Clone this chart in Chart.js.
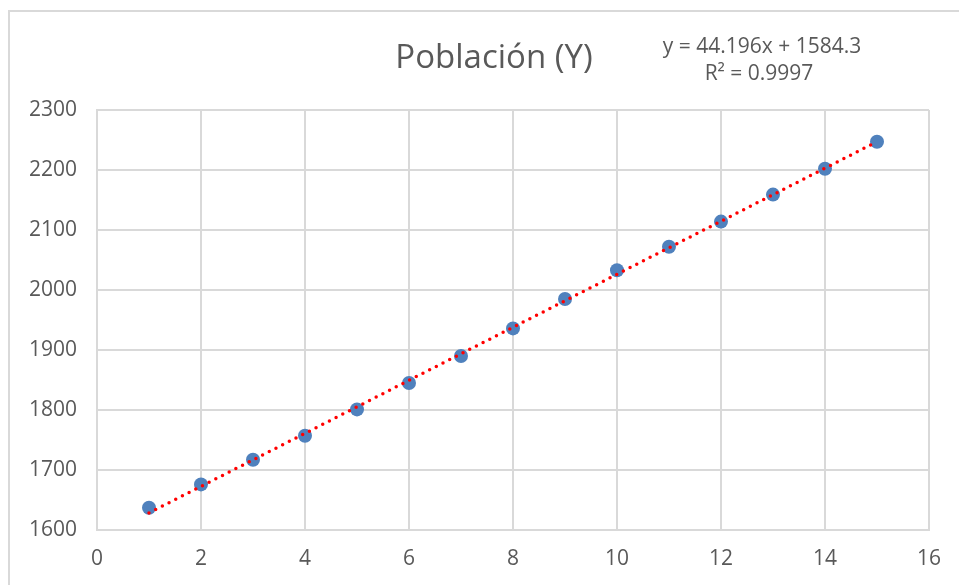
<!DOCTYPE html>
<html>
<head>
<meta charset="utf-8">
<script src="https://cdn.jsdelivr.net/npm/chart.js@4"></script>
<style>
html,body{margin:0;padding:0;background:#fff;overflow:hidden;}
canvas{display:block;}
</style>
</head>
<body>
<canvas id="c" width="959" height="585"></canvas>
<script>
const titleText = "Población (Y)";
const equationLines = ["y = 44.196x + 1584.3", "R² = 0.9997"];
const xValues = [1, 2, 3, 4, 5, 6, 7, 8, 9, 10, 11, 12, 13, 14, 15];
const populationY = [1637, 1676, 1717, 1757, 1801, 1845, 1890, 1936, 1985, 2033, 2072, 2114, 2159, 2202, 2247];
const trendX = [1, 15];
const trendY = [1628.5, 2247.2];
const xTicks = [0, 2, 4, 6, 8, 10, 12, 14, 16];
const yTicks = [1600, 1700, 1800, 1900, 2000, 2100, 2200, 2300];

const FONT = "'Open Sans', 'Noto Sans', sans-serif";
const TEXT = '#595959';
const GRID = '#d9d9d9';

const decor = {
  id: 'decor',
  beforeDraw(chart) {
    const ctx = chart.ctx;
    ctx.save();
    ctx.strokeStyle = GRID;
    ctx.lineWidth = 2;
    ctx.strokeRect(9, 11, 1000, 700);
    ctx.restore();
  },
  afterDraw(chart) {
    const ctx = chart.ctx;
    ctx.save();
    ctx.fillStyle = TEXT;
    ctx.textAlign = 'center';
    ctx.textBaseline = 'alphabetic';
    ctx.font = "33px " + FONT;
    ctx.fillText(titleText, 494, 68);
    ctx.font = "21px " + FONT;
    ctx.fillText(equationLines[0], 762, 53);
    ctx.fillText(equationLines[1], 759, 80);
    ctx.restore();
  }
};

new Chart(document.getElementById('c'), {
  type: 'scatter',
  data: {
    datasets: [
      {
        label: 'Lineal',
        type: 'line',
        data: trendX.map((x, i) => ({x: x, y: trendY[i]})),
        borderColor: '#ff0000',
        borderWidth: 3.5,
        borderDash: [0, 7.5],
        borderCapStyle: 'round',
        pointRadius: 0,
        fill: false,
        tension: 0
      },
      {
        label: titleText,
        data: xValues.map((x, i) => ({x: x, y: populationY[i]})),
        backgroundColor: '#4f81bd',
        borderColor: '#4f81bd',
        pointRadius: 7,
        borderWidth: 0
      }
    ]
  },
  options: {
    responsive: false,
    animation: false,
    events: [],
    layout: { padding: { top: 110, right: 30, left: 0, bottom: 0 } },
    plugins: { legend: { display: false }, tooltip: { enabled: false }, title: { display: false } },
    scales: {
      x: {
        type: 'linear',
        min: 0, max: 16,
        afterBuildTicks: (s) => { s.ticks = xTicks.map(v => ({value: v})); },
        afterFit: (s) => { s.height = 55; },
        grid: { color: GRID, lineWidth: 2, drawTicks: false },
        border: { color: GRID, width: 2 },
        ticks: { color: TEXT, font: { family: FONT, size: 21 }, padding: 16, maxRotation: 0, callback: (v) => String(v) }
      },
      y: {
        type: 'linear',
        min: 1600, max: 2300,
        afterBuildTicks: (s) => { s.ticks = yTicks.map(v => ({value: v})); },
        afterFit: (s) => { s.width = 97; },
        grid: { color: GRID, lineWidth: 2, drawTicks: false },
        border: { color: GRID, width: 2 },
        ticks: { color: TEXT, font: { family: FONT, size: 21 }, padding: 20, callback: (v) => String(v) }
      }
    }
  },
  plugins: [decor]
});
</script>
</body>
</html>
